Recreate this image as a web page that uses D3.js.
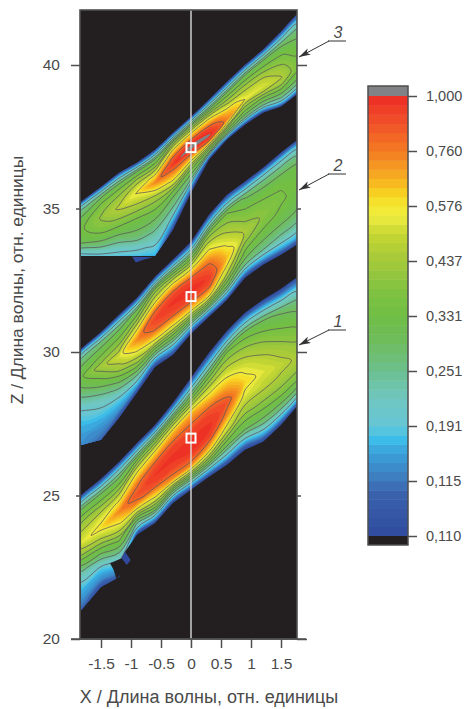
<!DOCTYPE html>
<html><head><meta charset="utf-8">
<script src="https://cdn.jsdelivr.net/npm/d3@7"></script>
<style>html,body{margin:0;background:#fff}svg{display:block}text{font-family:"Liberation Sans",Arial,sans-serif;fill:#4a4a4a}</style>
</head><body><svg id="c" width="465" height="709"></svg>
<script>
// ---- data ----
const xTicks = [-1.5,-1,-0.5,0,0.5,1,1.5];
const zTicks = [20,25,30,35,40];
const barTicks = [0.110,0.115,0.191,0.251,0.331,0.437,0.576,0.760,1.000];
const barLabels = ["0,110","0,115","0,191","0,251","0,331","0,437","0,576","0,760","1,000"];
const xColumns = [-1.83,-1.5,-1.2,-0.9,-0.6,-0.3,0,0.3,0.6,0.9,1.2,1.5,1.76];
// position across a band: -1 lower edge, 0 crest, +1 upper edge
const acrossBand = [-1,-0.88,-0.7,-0.45,-0.2,0,0.2,0.45,0.7,0.88,1];

const band1Lower = [21.01,21.81,22.16,23.63,24.04,24.74,25.2,25.65,26.07,26.59,26.87,27.46,28.09];
const band1Crest = [23.35,23.87,24.43,25.02,25.72,26.31,26.76,27.39,28.26,28.96,29.31,29.55,29.8];
const band1Upper = [25.02,25.58,26.17,26.83,27.46,28.23,29.1,29.97,30.74,31.37,31.82,32.2,32.59];
// values are positions on the colour bar (0 = 0,110 ... 8 = 1,000), one row per x column
const band1Levels = [
 [0.7,1.2,1.7,2.8,4.6,5.7,5.3,4.6,3.6,1.9,0],
 [0.3,1.2,1.9,3.5,5.1,6.1,5.7,4.7,3.6,1.9,0],
 [0.4,1.4,2.5,4.2,5.8,6.9,6,4.7,3.5,1.9,0],
 [0,1.8,3.1,5.1,7,7.5,7.1,5.8,4,1.9,0],
 [0,1.7,4,6,7.6,7.85,7.5,6.1,4.2,1.9,0],
 [0,1.7,4,6.9,7.75,7.9,7.7,6.5,4.3,1.9,0],
 [0,1.7,4,6.9,7.8,7.97,7.7,6.6,4,1.8,0],
 [0,1.7,4,6.3,7.75,7.9,7.6,5.9,4,1.8,0],
 [0,1.7,3.6,5.4,6.9,7.5,6.6,5.4,4.2,1.9,0],
 [0,1.7,3.6,4.8,5.7,6.2,5.7,4.9,3.9,1.9,0],
 [0,1.7,3.4,4.6,5.4,5.7,5.3,4.6,3.7,1.9,0],
 [0,1.7,3.3,4.5,5.1,5.4,5,4.3,3.5,1.9,0],
 [0,1.6,3.2,4.3,4.9,5.1,4.7,4,3.2,1.8,0]];

const band2Lower = [26.76,26.94,27.71,28.58,29.48,29.9,30.64,31.23,31.82,32.59,33.04,33.39,33.74];
const band2Crest = [29.1,29.48,29.83,30.43,31.12,31.72,32.17,32.59,33.32,34.19,34.78,35.31,35.73];
const band2Upper = [30.11,30.7,31.3,31.89,32.62,33.22,33.84,34.78,35.48,35.94,36.42,36.95,37.37];
const band2Levels = [
 [1.3,1.4,1.7,2.3,3.4,4.1,3.9,3.5,2.9,1.8,0],
 [0.8,1.2,1.7,2.6,4,5,4.5,3.9,3.2,1.8,0],
 [0.3,1.3,2,3.4,4.9,5.6,5,4.2,3.4,1.9,0],
 [0,1.4,2.8,4.6,6,6.9,6.1,4.8,3.7,1.9,0],
 [0,1.4,3.4,5.7,7.3,7.7,7.2,5.6,4.4,2,0],
 [0,1.4,3.4,5.8,7.6,7.9,7.6,5.9,4,1.9,0],
 [0,1.6,3.8,6.2,7.7,7.97,7.6,5.7,3.8,1.8,0],
 [0,1.6,3.8,6.1,7.5,7.8,7.3,5.9,4.4,2,0],
 [0,1.6,3.5,5,5.9,6.4,5.8,5,4.2,2,0],
 [0,1.6,3.2,4.1,4.8,5.1,4.7,4.2,3.5,1.9,0],
 [0,1.6,3,3.8,4.4,4.6,4.4,4,3.2,1.9,0],
 [0,1.6,2.8,3.6,4.1,4.3,4.2,3.9,3,1.8,0],
 [0,1.6,2.7,3.5,3.9,4,4,3.8,2.9,1.8,0]];

const band3Lower = [33.35,33.35,33.35,33.35,33.35,34.26,35.55,36.7,37.4,37.92,38.34,38.55,38.97];
const band3Crest = [34.26,34.68,35.03,35.55,35.9,36.53,37.12,37.54,38.1,38.8,39.25,39.56,39.95];
const band3Upper = [35.24,35.76,36.25,36.6,37.05,37.64,38.2,38.8,39.42,40.01,40.54,41.17,41.76];
const band3Levels = [
 [2,2.3,3,3.8,4,4.1,4,3.6,3,1.9,0],
 [2,2.5,3.3,4.1,4.6,4.75,4.6,4.2,3.4,1.9,0],
 [2,2.3,3.1,4,4.8,5.3,5,4.5,3.5,1.9,0],
 [1.9,2.3,3.3,4,5.1,5.95,5.5,4.7,3.6,1.9,0],
 [1.6,2.1,2.8,3.8,5,6.9,6.1,4.8,3.7,1.9,0],
 [0,1.4,2.8,3.8,6.3,7.8,7.4,6,4.3,2,0],
 [0,1.2,3,4.4,6.8,8.3,7.6,6,4.2,2,0],
 [0,1.3,3.5,5,7.4,8.1,7.6,6,4,2,0],
 [0,1.4,3.3,4.5,5.9,7,6.4,5,3.8,1.9,0],
 [0,1.5,3.2,4.2,5,5.9,5.4,4.6,3.6,1.9,0],
 [0,1.6,3.1,4.1,5.2,5.65,5.3,4.5,3.6,1.9,0],
 [0,1.6,3,4,4.9,5.25,4.9,4.3,3.5,1.9,0],
 [0,1.5,2.8,3.7,4.2,4.4,4.2,3.8,3.2,1.8,0]];

const markerX = [0,0,0];
const markerZ = [27,31.93,37.12];
const curveLabels = ["1","2","3"];
const sliverX = [-0.98,-0.63,-0.78,-0.92];
const sliverZ = [33.32,33.3,33.22,33.12];
const notchX = [-1.24,-1.29,-1.35,-1.155,-1.1,-0.96,-0.9,-1.07];
const notchZ = [22.08,22.41,22.64,22.81,23.04,23.45,23.63,22.52];
const spikeX = [-1.155,-1.1,-1.005,-1.07];
const spikeZ = [22.81,23.04,22.75,22.58];
const isoLevels = [2.2,3,3.6,4.2,4.7,5.2,5.9,7.2];
// colour bar anchors: position on the bar, colour
const colourPos = [0,0.8,1,1.5,1.8,2,2.5,3,3.5,4,4.5,5,5.5,5.8,6,6.3,6.6,7,7.5,8];
const colourHex = ["#2f4a9d","#3a62ad","#3d78ba","#3a9fd9","#3cc3ec","#66c5d5","#6fc7c0","#6cc090","#6fbc60","#6fbe44","#82c341","#a5c93a","#c6d733","#eceb3f","#f4e92f","#f7c81f","#f6a623","#f47b20","#f0532a","#ee2a24"];

// ---- drawing ----
const svg = d3.select("#c");
const ink = "#4f4f4f", black = "#231f20", grey = "#808285";
const x = d3.scaleLinear().domain([-1.5,1.5]).range([101,281]);
const z = d3.scaleLinear().domain([20,40]).range([639,65]);
const plot = {l:80,r:297,t:10,b:639};
const colour = d3.scaleLinear().domain(colourPos).range(colourHex).clamp(true);
const step = 1/6;
const steps = d3.range(0,48).map(i=>i*step);
const barY = d3.scaleLinear().domain([0,8]).range([536,96]);
const valueToPos = d3.scaleLinear().domain(barTicks).range(barTicks.map((_,i)=>i));

svg.append("rect").attr("x",plot.l).attr("y",plot.t).attr("width",plot.r-plot.l).attr("height",plot.b-plot.t).attr("fill",black);

const defs = svg.append("defs");
defs.append("marker").attr("id","head").attr("viewBox","0 0 10 6").attr("refX",10).attr("refY",3)
  .attr("markerUnits","userSpaceOnUse").attr("markerWidth",12).attr("markerHeight",7).attr("orient","auto")
  .append("path").attr("d","M0,0L10,3L0,6L2.5,3Z").attr("fill","#333");

const closedCurve = d3.line().curve(d3.curveCatmullRomClosed.alpha(0.5));
function drawBand(id, lower, crest, upper, levels){
  const n = levels.length, m = levels[0].length;
  const flat = [];
  for(let j=0;j<m;j++) for(let i=0;i<n;i++) flat.push(levels[i][j]);
  const colIdx = d3.range(n).map(i=>i+0.5), rowIdx = d3.range(m).map(j=>j+0.5);
  const cx = d3.scaleLinear().domain(colIdx).range(xColumns);
  const cl = d3.scaleLinear().domain(colIdx).range(lower);
  const cr = d3.scaleLinear().domain(colIdx).range(crest);
  const cu = d3.scaleLinear().domain(colIdx).range(upper);
  const rt = d3.scaleLinear().domain(rowIdx).range(acrossBand);
  const toPlot = ([px,py])=>{
    const t = rt(py), c = cr(px);
    const v = c + (t<0 ? t*(c-cl(px)) : t*(cu(px)-c));
    return [x(cx(px)), z(v)];
  };
  const path = g=>g.coordinates.flatMap(poly=>poly.map(ring=>closedCurve(ring.slice(0,-1).map(toPlot)))).join("");
  const outline = d3.line()(xColumns.map((v,i)=>[x(v),z(upper[i])]).concat(xColumns.map((v,i)=>[x(v),z(lower[i])]).reverse()))+"Z";
  defs.append("clipPath").attr("id",id).append("path").attr("d",outline);
  svg.append("path").attr("d",outline).attr("fill",colour(step/2));
  const g = svg.append("g").attr("clip-path",`url(#${id})`);
  const fills = d3.contours().size([n,m]).smooth(true).thresholds(steps.slice(1).concat([8]))(flat);
  g.selectAll("path.f").data(fills).join("path").attr("class","f")
    .attr("d",path).attr("fill",d=>d.value>=8?grey:colour(d.value+step/2));
  const lines = d3.contours().size([n,m]).smooth(true).thresholds(isoLevels)(flat);
  g.selectAll("path.l").data(lines).join("path").attr("class","l")
    .attr("d",path).attr("fill","none").attr("stroke","#5c5c58").attr("stroke-width",0.8);
}
drawBand("b1",band1Lower,band1Crest,band1Upper,band1Levels);
drawBand("b2",band2Lower,band2Crest,band2Upper,band2Levels);
drawBand("b3",band3Lower,band3Crest,band3Upper,band3Levels);

const poly = (xs,zs)=>d3.line()(xs.map((v,i)=>[x(v),z(zs[i])]))+"Z";
svg.append("path").attr("d",poly(sliverX,sliverZ)).attr("fill","#2f4a9d");
svg.append("path").attr("d",poly(notchX,notchZ)).attr("fill",black);
svg.append("path").attr("d",poly(spikeX,spikeZ)).attr("fill","#2f4a9d");

// centre line and markers
svg.append("line").attr("x1",x(0)).attr("x2",x(0)).attr("y1",plot.t).attr("y2",plot.b+9).attr("stroke","#dcdcdc").attr("stroke-width",1.4);
svg.selectAll("rect.m").data(markerZ).join("rect").attr("class","m")
  .attr("x",(d,i)=>x(markerX[i])-4.5).attr("y",d=>z(d)-4.5).attr("width",9).attr("height",9)
  .attr("fill","none").attr("stroke","#fff").attr("stroke-width",2);

// frame + axes
svg.append("rect").attr("x",plot.l).attr("y",plot.t).attr("width",plot.r-plot.l).attr("height",plot.b-plot.t).attr("fill","none").attr("stroke",ink).attr("stroke-width",1.6);
function styleAxis(g){ g.select(".domain").remove(); g.selectAll("line").attr("stroke",ink).attr("stroke-width",1.5);
  g.selectAll("text").style("font-size","15.5px"); }
const left = svg.append("g").attr("transform",`translate(${plot.l},0)`).call(d3.axisLeft(z).tickValues(zTicks).tickSize(9).tickPadding(11).tickFormat(d3.format("d"))).call(styleAxis);
const right = svg.append("g").attr("transform",`translate(${plot.r},0)`).call(d3.axisRight(z).tickValues(zTicks).tickSize(10).tickFormat("")).call(styleAxis);
left.selectAll(".tick").filter(d=>d%10===5).select("line").attr("x2",-4);
right.selectAll(".tick").filter(d=>d%10===5).select("line").attr("x2",4);
svg.append("g").attr("transform",`translate(0,${plot.b})`).call(d3.axisBottom(x).tickValues(xTicks).tickSize(9).tickPadding(10).tickFormat(d=>d===0?"0":String(d))).call(styleAxis);
svg.append("line").attr("x1",plot.l-9).attr("x2",plot.r+9).attr("y1",plot.b).attr("y2",plot.b).attr("stroke",ink).attr("stroke-width",1.5);

svg.append("text").attr("x",209).attr("y",703).attr("text-anchor","middle").style("font-size","18px").text("X / Длина волны, отн. единицы");
svg.append("text").attr("transform","translate(22.5,280) rotate(-90)").attr("text-anchor","middle").style("font-size","17.4px").text("Z / Длина волны, отн. единицы");

// curve annotations
const callouts = [[330,345],[174,190],[41,57]];
callouts.forEach(([under,tip],i)=>{
  svg.append("line").attr("x1",328).attr("x2",346).attr("y1",under).attr("y2",under).attr("stroke","#333").attr("stroke-width",1);
  svg.append("line").attr("x1",329).attr("y1",under).attr("x2",299).attr("y2",tip).attr("stroke","#333").attr("stroke-width",1).attr("marker-end","url(#head)");
  svg.append("text").attr("x",338).attr("y",under-3).attr("text-anchor","middle").style("font-size","16px").style("font-style","italic").text(curveLabels[i]);
});

// colour bar
const bar = svg.append("g");
const barL=368, barW=40;
bar.selectAll("rect.s").data(steps).join("rect").attr("class","s").attr("x",barL).attr("width",barW)
  .attr("y",d=>barY(d+step)).attr("height",d=>barY(d)-barY(d+step)+0.5).attr("fill",d=>colour(d+step/2));
bar.append("rect").attr("x",barL).attr("width",barW).attr("y",barY(8)-10).attr("height",10).attr("fill",grey);
bar.append("rect").attr("x",barL).attr("width",barW).attr("y",barY(0)).attr("height",9).attr("fill",black);
bar.append("rect").attr("x",barL).attr("width",barW).attr("y",barY(8)-10).attr("height",barY(0)+9-barY(8)+10).attr("fill","none").attr("stroke",ink).attr("stroke-width",1.5);
const barAxis = d3.scaleLinear().domain(barTicks.map(v=>valueToPos(v))).range(barTicks.map(v=>barY(valueToPos(v))));
svg.append("g").attr("transform",`translate(${barL+barW},0)`)
  .call(d3.axisRight(barAxis).tickValues(barTicks.map(v=>valueToPos(v))).tickSize(9).tickPadding(9).tickFormat((d,i)=>barLabels[i])).call(styleAxis)
  .selectAll("text").style("font-size","14.5px");
</script></body></html>
